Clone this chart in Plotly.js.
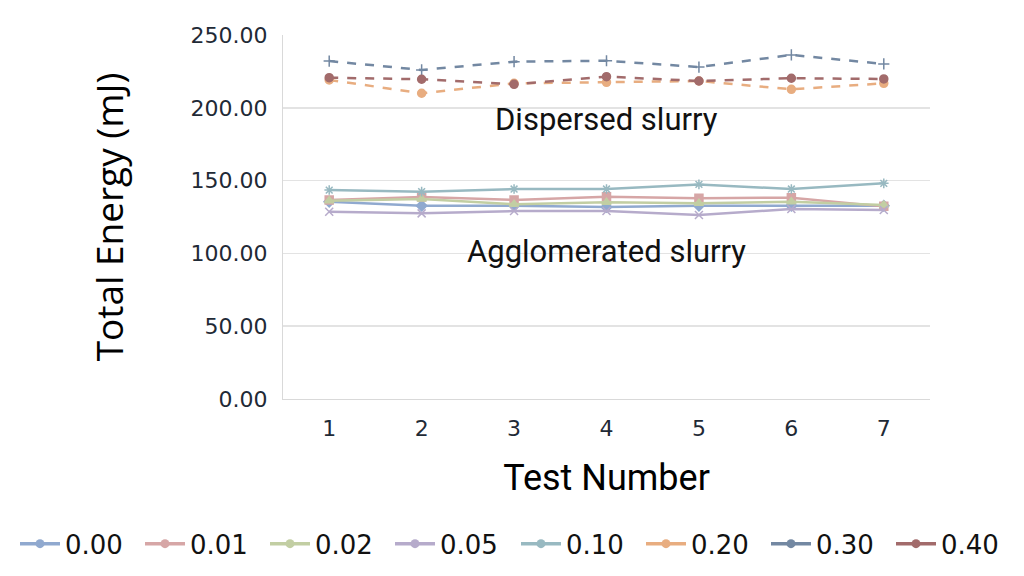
<!DOCTYPE html>
<html>
<head>
<meta charset="utf-8">
<script src="https://cdn.plot.ly/plotly-3.0.1.min.js"></script>
<style>html,body{margin:0;padding:0;background:#fff;}#chart{width:1024px;height:576px;}</style>
</head>
<body>
<div id="chart"></div>
<script>
const tests = [1, 2, 3, 4, 5, 6, 7];
const seriesNames = ["0.00", "0.01", "0.02", "0.05", "0.10", "0.20", "0.30", "0.40"];
const s000 = [135.5, 132.8, 132.8, 131.9, 132.8, 132.8, 132.8];
const s001 = [136.7, 138.7, 136.7, 138.9, 137.8, 138.3, 132.3];
const s002 = [136.2, 137.4, 133.7, 135.1, 134.4, 135.5, 133.2];
const s005 = [128.6, 127.5, 129.1, 129.1, 126.4, 130.5, 129.8];
const s010 = [143.5, 142.4, 144.2, 144.2, 147.4, 144.2, 148.1];
const s020 = [219.1, 210.0, 216.8, 217.5, 218.4, 212.7, 216.8];
const s030 = [232.1, 226.0, 231.7, 232.3, 228.0, 236.3, 230.1];
const s040 = [220.7, 219.6, 216.1, 221.4, 218.4, 220.3, 219.8];
const yTicks = [0, 50, 100, 150, 200, 250];
const annotationTexts = ["Dispersed slurry", "Agglomerated slurry"];
const annotationY = [192, 101.5];

const values = [s000, s001, s002, s005, s010, s020, s030, s040];
const colors = ["#90a9cf", "#d6a6a6", "#c2cea3", "#b6abcb", "#98b9c1", "#e8ad80", "#7388a2", "#a26b6b"];
const symbols = ["diamond", "square", "triangle-up", "x-thin-open", "asterisk-open", "circle", "cross-thin-open", "circle"];
const dashes = ["solid", "solid", "solid", "solid", "solid", "dash", "dash", "dash"];

const traces = [];
values.forEach((v, i) => {
  traces.push({
    x: tests, y: v, type: "scatter", mode: "lines+markers",
    name: seriesNames[i], showlegend: false,
    line: {color: colors[i], width: 2.5, dash: dashes[i]},
    marker: {color: colors[i], symbol: symbols[i], size: 8, line: {color: colors[i], width: 1.5}}
  });
});
values.forEach((v, i) => {
  traces.push({
    x: [null], y: [null], type: "scatter", mode: "lines+markers",
    name: seriesNames[i], showlegend: true,
    legend: i < 4 ? "legend" : "legend2",
    line: {color: colors[i], width: 3.5},
    marker: {color: colors[i], symbol: "circle", size: 9}
  });
});

const legendBase = {
  orientation: "h", xref: "container", yref: "container",
  xanchor: "left", y: 0.056, yanchor: "middle",
  font: {size: 26, family: "DejaVu Sans, sans-serif", color: "#111"},
  itemwidth: 40, traceorder: "normal", entrywidth: 70,
  bgcolor: "rgba(0,0,0,0)"
};

const layout = {
  width: 1024, height: 576,
  margin: {l: 283, r: 94, t: 35, b: 177},
  paper_bgcolor: "#fff", plot_bgcolor: "#fff",
  font: {family: "DejaVu Sans, sans-serif", color: "#1f2a36"},
  xaxis: {
    type: "linear", range: [0.5, 7.5], tickvals: tests, ticktext: tests.map(String),
    showgrid: false, zeroline: false, showline: true, linecolor: "#d9d9d9", linewidth: 1,
    ticks: "", tickfont: {size: 22, family: "DejaVu Sans, sans-serif", color: "#1f2a36"},
    ticklabelstandoff: 10,
    title: {text: "Test Number", font: {size: 36, family: "Roboto, sans-serif", color: "#000"}, standoff: 24}
  },
  yaxis: {
    range: [0, 250], tickvals: yTicks, tickformat: ".2f",
    showgrid: true, gridcolor: "#e3e3e3", gridwidth: 1.5, zeroline: false,
    showline: true, linecolor: "#d9d9d9", linewidth: 1, ticks: "",
    tickfont: {size: 22, family: "DejaVu Sans, sans-serif", color: "#1f2a36"},
    ticklabelstandoff: 10,
    title: {text: "Total Energy (mJ)", font: {size: 37, family: "Open Sans, sans-serif", color: "#000"}, standoff: 55}
  },
  annotations: annotationTexts.map((t, i) => ({
    x: 4, y: annotationY[i], xref: "x", yref: "y", text: t, showarrow: false,
    font: {size: 31, family: "Roboto, sans-serif", color: "#111"}
  })),
  legend: Object.assign({}, legendBase, {x: 15 / 1024}),
  legend2: Object.assign({}, legendBase, {x: 516 / 1024}),
  showlegend: true
};

Plotly.newPlot("chart", traces, layout, {displayModeBar: false, staticPlot: true});
</script>
</body>
</html>
